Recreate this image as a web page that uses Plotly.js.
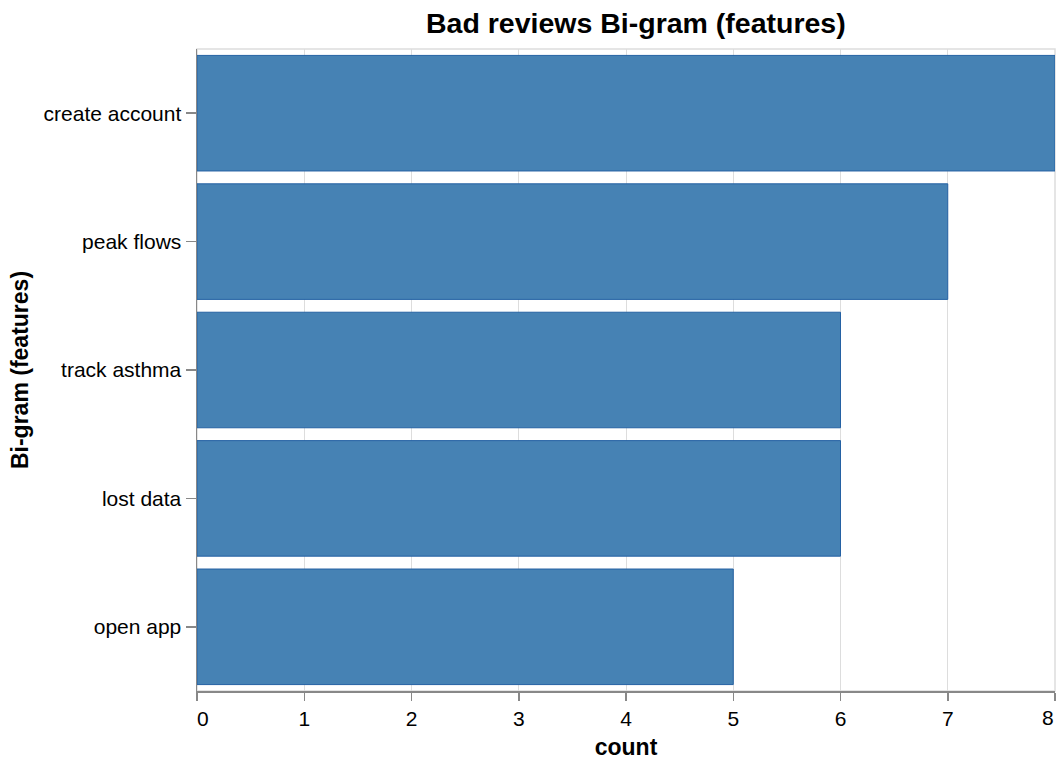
<!DOCTYPE html>
<html><head><meta charset="utf-8">
<script src="https://cdn.plot.ly/plotly-3.0.1.min.js"></script>
<style>html,body{margin:0;padding:0;background:#fff}#chart{width:1058px;height:760px}</style>
</head><body><div id="chart"></div>
<script>
const bigrams = ["create account", "peak flows", "track asthma", "lost data", "open app"];
const counts = [8, 7, 6, 6, 5];
const xTicks = [0, 1, 2, 3, 4, 5, 6, 7, 8];

const font = "Liberation Sans, Arial, Helvetica, sans-serif";
const NB = "\u00a0";
const last = xTicks[xTicks.length - 1];
// first label flush-left with the axis start; last label drawn as a right-aligned annotation
const xTickText = xTicks.map((v, i) => i === 0 ? NB + NB + String(v) : (i === xTicks.length - 1 ? "" : String(v)));

const trace = {
  type: "bar", orientation: "h",
  x: counts, y: bigrams,
  marker: {color: "#4682b4", line: {color: "#2461a3", width: 1}},
  hoverinfo: "x+y"
};
const layout = {
  width: 1058, height: 760,
  margin: {l: 197, r: 3, t: 49, b: 69},
  paper_bgcolor: "#fff", plot_bgcolor: "#fff",
  bargap: 0.1,
  showlegend: false,
  font: {family: font, color: "#000"},
  title: {text: "<b>Bad reviews Bi-gram (features)</b>", font: {family: font, size: 28.5, color: "#000"}, x: 0.601, xanchor: "center", y: 0.970, yanchor: "middle"},
  xaxis: {
    range: [0, 8], tickvals: xTicks, ticktext: xTickText,
    showgrid: true, gridcolor: "#dddddd", gridwidth: 1,
    showline: true, linecolor: "#888", linewidth: 1.5,
    ticks: "outside", ticklen: 8, tickcolor: "#888", tickwidth: 1.5,
    tickfont: {family: font, size: 21, color: "#000"},
    zeroline: false,
    title: {text: "<b>count</b>", font: {family: font, size: 23, color: "#000"}, standoff: 12}
  },
  yaxis: {
    type: "category", categoryorder: "array", categoryarray: bigrams,
    autorange: "reversed",
    showgrid: false,
    showline: true, linecolor: "#888", linewidth: 1.5,
    ticks: "outside", ticklen: 10, tickcolor: "#888", tickwidth: 1.5,
    tickfont: {family: font, size: 21, color: "#000"},
    title: {text: "<b>Bi-gram (features)</b>", font: {family: font, size: 23, color: "#000"}, standoff: 8}
  },
  annotations: [{
    text: String(last), x: last, xref: "x", y: 0, yref: "paper",
    xanchor: "right", yanchor: "top", yshift: -13, xshift: 1, showarrow: false,
    font: {family: font, size: 21, color: "#000"}
  }],
  shapes: [{type: "rect", xref: "paper", yref: "paper", x0: 0, x1: 1, y0: 0, y1: 1,
    line: {color: "#dddddd", width: 1.5}, layer: "below"}]
};
Plotly.newPlot("chart", [trace], layout, {displayModeBar: false, staticPlot: true});
</script></body></html>
